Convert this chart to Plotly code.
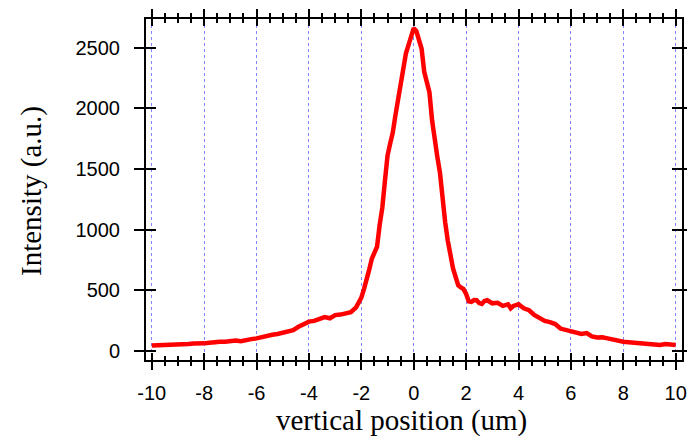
import plotly.graph_objects as go

# ---- data ----
position_um = [-10, -9.8, -9.6, -9.4, -9.2, -9.0, -8.8, -8.6, -8.4, -8.2, -8.0, -7.8, -7.6, -7.4, -7.2,
               -7.0, -6.8, -6.6, -6.4, -6.2, -6.0, -5.8, -5.6, -5.4, -5.2, -5.0, -4.8, -4.6, -4.4, -4.2,
               -4.0, -3.8, -3.6, -3.4, -3.2, -3.0, -2.8, -2.6, -2.4, -2.2, -2.0, -1.9, -1.8, -1.7, -1.6,
               -1.5, -1.4, -1.3, -1.2, -1.1, -1.0, -0.9, -0.8, -0.7, -0.6, -0.5, -0.4, -0.3, -0.2, -0.1,
               0.0, 0.1, 0.2, 0.3, 0.4, 0.5, 0.6, 0.7, 0.8, 0.9, 1.0, 1.1, 1.2, 1.3, 1.4, 1.5, 1.6, 1.7,
               1.8, 1.9, 2.0, 2.1, 2.2, 2.3, 2.4, 2.5, 2.6, 2.7, 2.8, 2.9, 3.0, 3.2, 3.4, 3.6, 3.7, 3.8,
               4.0, 4.2, 4.4, 4.6, 4.8, 5.0, 5.2, 5.4, 5.6, 5.8, 6.0, 6.2, 6.4, 6.6, 6.8, 7.0, 7.2, 7.4,
               7.6, 7.8, 8.0, 8.2, 8.4, 8.6, 8.8, 9.0, 9.2, 9.4, 9.6, 9.8, 10.0]
intensity = [45, 47, 48, 46, 47, 46, 52, 58, 62, 60, 63, 68, 74, 77, 76,
             82, 86, 80, 92, 98, 104, 116, 130, 134, 140, 150, 160, 172, 200, 225,
             242, 248, 268, 280, 270, 296, 300, 312, 320, 360, 440, 510, 580, 670, 760,
             820, 860, 1040, 1180, 1400, 1610, 1710, 1800, 1940, 2080, 2180, 2330, 2450, 2520, 2600,
             2660, 2635, 2570, 2490, 2300, 2200, 2130, 1900, 1720, 1600, 1470, 1220, 1060, 910, 770, 680, 610, 540,
             525, 510, 470, 410, 405, 420, 418, 395, 388, 412, 418, 405, 393, 398, 372, 385, 352, 371,
             385, 352, 336, 297, 272, 248, 238, 222, 185, 175, 167, 155, 140, 148, 120, 112, 113, 104,
             92, 85, 77, 73, 68, 66, 64, 62, 56, 50, 57, 53, 50]

x_ticks = [-10, -8, -6, -4, -2, 0, 2, 4, 6, 8, 10]
x_tick_labels = ["-10", "-8", "-6", "-4", "-2", "0", "2", "4", "6", "8", "10"]
y_ticks = [0, 500, 1000, 1500, 2000, 2500]
y_tick_labels = ["0", "500", "1000", "1500", "2000", "2500"]
x_title = "vertical position (um)"
y_title = "Intensity (a.u.)"

X_RANGE = [-10.22, 10.24]
Y_RANGE = [-74, 2735]

fig = go.Figure()
fig.add_trace(go.Scatter(x=position_um, y=intensity, mode="lines",
                         line=dict(color="#ff0000", width=4.5), showlegend=False,
                         hoverinfo="skip"))
# empty trace to make the secondary (inside-tick) axes exist
fig.add_trace(go.Scatter(x=[], y=[], xaxis="x2", yaxis="y2", showlegend=False))

tickfont = dict(family="Liberation Sans, Arial, sans-serif", size=20, color="black")

common_x = dict(range=X_RANGE, tickmode="array", tickvals=x_ticks, ticktext=x_tick_labels,
                zeroline=False, automargin=False,
                tickwidth=2, tickcolor="black", mirror="ticks", fixedrange=True)
common_y = dict(range=Y_RANGE, tickmode="array", tickvals=y_ticks, ticktext=y_tick_labels,
                zeroline=False, automargin=False,
                tickwidth=2, tickcolor="black", mirror="ticks", fixedrange=True)

fig.update_layout(
    width=687, height=436,
    margin=dict(l=146, r=5, t=19, b=76),
    paper_bgcolor="white", plot_bgcolor="white",
    xaxis=dict(**common_x, ticks="outside", ticklen=8,
               showline=True, linewidth=2, linecolor="black",
               showgrid=True, gridcolor="rgba(90,90,255,0.75)", gridwidth=1, griddash="dot",
               tickfont=tickfont, ticklabelstandoff=6,
               minor=dict(dtick=0.5, tick0=0, ticks="outside", ticklen=4, tickwidth=2,
                          tickcolor="black", showgrid=False)),
    xaxis2=dict(**common_x, ticks="inside", ticklen=7, overlaying="x", anchor="y",
                side="bottom", showline=False, showgrid=False, showticklabels=False,
                minor=dict(dtick=0.5, tick0=0, ticks="inside", ticklen=4, tickwidth=2,
                           tickcolor="black", showgrid=False)),
    yaxis=dict(**common_y, ticks="outside", ticklen=10,
               showline=True, linewidth=2, linecolor="black", showgrid=False,
               tickfont=tickfont, ticklabelstandoff=10),
    yaxis2=dict(**common_y, ticks="inside", ticklen=10, overlaying="y", anchor="x",
                side="left", showline=False, showgrid=False, showticklabels=False),
    annotations=[
        dict(text=x_title, xref="paper", yref="paper", x=0.4767, y=-0.176,
             xanchor="center", yanchor="middle", showarrow=False,
             font=dict(family="Liberation Serif, Times New Roman, serif", size=29, color="black")),
        dict(text=y_title, xref="paper", yref="paper", x=-0.2146, y=0.4956,
             xanchor="center", yanchor="middle", showarrow=False, textangle=-90,
             font=dict(family="Liberation Serif, Times New Roman, serif", size=29, color="black")),
    ],
)

fig.write_html("out.html")
